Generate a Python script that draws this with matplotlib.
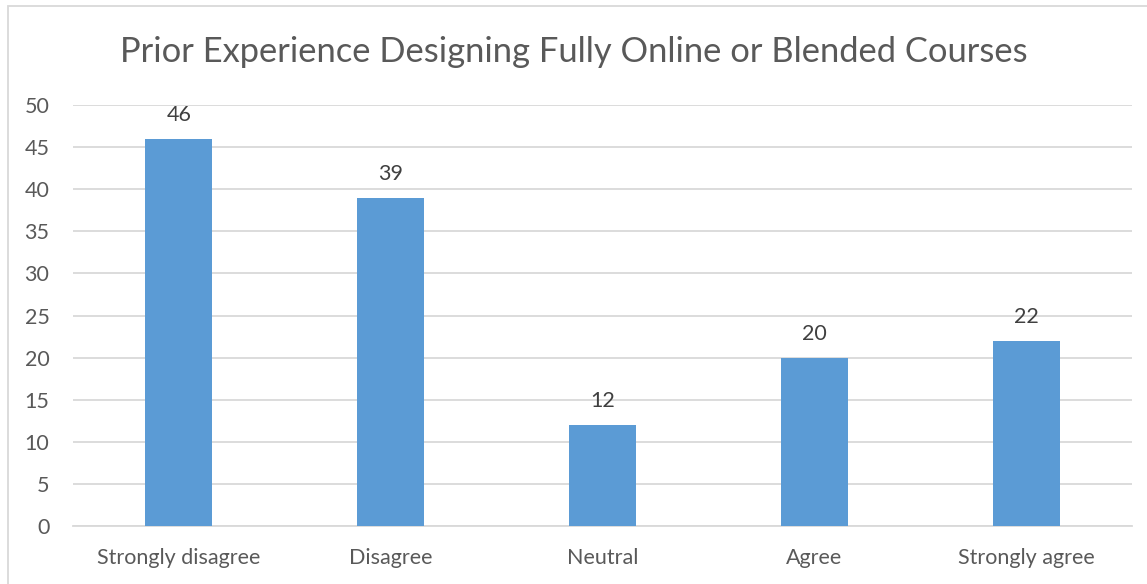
import matplotlib.pyplot as plt
from matplotlib.patches import Rectangle

plt.rcParams['font.family'] = ['Lato', 'DejaVu Sans']

categories = ['Strongly disagree', 'Disagree', 'Neutral', 'Agree', 'Strongly agree']
counts = [46, 39, 12, 20, 22]
y_ticks = list(range(0, 51, 5))

text_color = '#595959'
grid_color = '#D9D9D9'
bar_color = '#5B9BD5'

fig = plt.figure(figsize=(11.47, 5.84), dpi=100)
ax = fig.add_axes([73 / 1147, 1 - 526 / 584, (1132 - 73) / 1147, (526 - 105) / 584])

x = list(range(len(categories)))
bars = ax.bar(x, counts, width=0.316, color=bar_color, zorder=3)

for xi, v in zip(x, counts):
    ax.annotate(str(v), (xi, v), xytext=(0, 10), textcoords='offset points',
                ha='center', va='bottom', fontsize=15.5, color='#404040')

ax.set_xlim(-0.5, len(categories) - 0.5)
ax.set_ylim(0, 50)
ax.set_yticks(y_ticks)
ax.set_xticks(x)
ax.set_xticklabels(categories)
ax.yaxis.grid(True, color=grid_color, linewidth=1.3, zorder=0)
ax.tick_params(axis='both', length=0, labelsize=15.5, colors=text_color)
ax.tick_params(axis='y', pad=17)
ax.tick_params(axis='x', pad=16)
for s in ['top', 'right', 'left']:
    ax.spines[s].set_visible(False)
ax.spines['bottom'].set_color(grid_color)
ax.spines['bottom'].set_linewidth(1.3)

fig.text(0.5, 1 - 52 / 584, 'Prior Experience Designing Fully Online or Blended Courses',
         ha='center', va='center', fontsize=24.8, color=text_color)

# chart border
fig.patches.append(Rectangle((8 / 1147, -0.01), 1.02, 1 - 6 / 584 + 0.01,
                             transform=fig.transFigure, fill=False,
                             edgecolor=grid_color, linewidth=1.3))

fig.savefig('out.png', dpi=100, facecolor='white')
